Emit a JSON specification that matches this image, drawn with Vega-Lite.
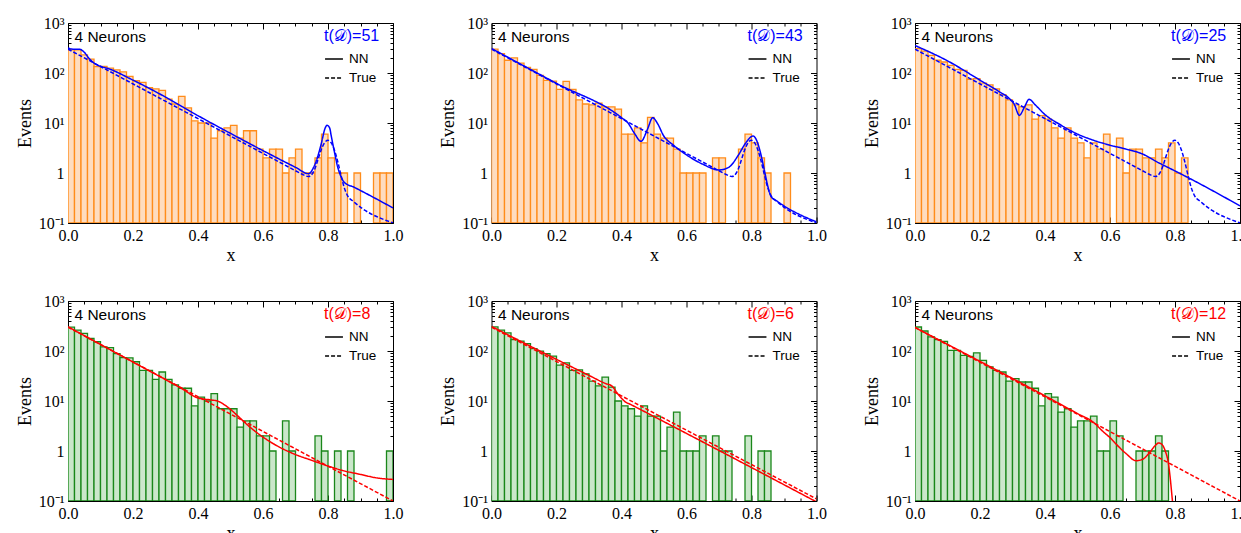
{
"$schema": "https://vega.github.io/schema/vega-lite/v6.json",
"background": "white",
"padding": {"left": 16, "top": 15, "right": 0, "bottom": 0},
"datasets": {
"bars": [
{"p":1,"a":0,"b":0.02,"n":290},{"p":1,"a":0.02,"b":0.04,"n":290},{"p":1,"a":0.04,"b":0.06,"n":230},{"p":1,"a":0.06,"b":0.08,"n":190},{"p":1,"a":0.08,"b":0.1,"n":135},{"p":1,"a":0.1,"b":0.12,"n":135},{"p":1,"a":0.12,"b":0.14,"n":125},{"p":1,"a":0.14,"b":0.16,"n":115},{"p":1,"a":0.16,"b":0.18,"n":105},{"p":1,"a":0.18,"b":0.2,"n":86},{"p":1,"a":0.2,"b":0.22,"n":70},{"p":1,"a":0.22,"b":0.24,"n":65},{"p":1,"a":0.24,"b":0.26,"n":51},{"p":1,"a":0.26,"b":0.28,"n":48},{"p":1,"a":0.28,"b":0.3,"n":45},{"p":1,"a":0.3,"b":0.32,"n":30},{"p":1,"a":0.32,"b":0.34,"n":24},{"p":1,"a":0.34,"b":0.36,"n":34},{"p":1,"a":0.36,"b":0.38,"n":20},{"p":1,"a":0.38,"b":0.4,"n":11},{"p":1,"a":0.4,"b":0.42,"n":10},{"p":1,"a":0.42,"b":0.44,"n":10},{"p":1,"a":0.44,"b":0.46,"n":5},{"p":1,"a":0.46,"b":0.48,"n":7},{"p":1,"a":0.48,"b":0.5,"n":8},{"p":1,"a":0.5,"b":0.52,"n":9},{"p":1,"a":0.52,"b":0.54,"n":5},{"p":1,"a":0.54,"b":0.56,"n":7},{"p":1,"a":0.56,"b":0.58,"n":7},{"p":1,"a":0.58,"b":0.6,"n":3},{"p":1,"a":0.6,"b":0.62,"n":2},{"p":1,"a":0.62,"b":0.64,"n":3},{"p":1,"a":0.64,"b":0.66,"n":3},{"p":1,"a":0.66,"b":0.68,"n":1},{"p":1,"a":0.68,"b":0.7,"n":2},{"p":1,"a":0.7,"b":0.72,"n":3},{"p":1,"a":0.72,"b":0.74,"n":1},{"p":1,"a":0.74,"b":0.76,"n":1},{"p":1,"a":0.76,"b":0.78,"n":2},{"p":1,"a":0.78,"b":0.8,"n":6},{"p":1,"a":0.8,"b":0.82,"n":2},{"p":1,"a":0.82,"b":0.84,"n":1},{"p":1,"a":0.84,"b":0.86,"n":1},{"p":1,"a":0.88,"b":0.9,"n":1},{"p":1,"a":0.94,"b":0.96,"n":1},{"p":1,"a":0.96,"b":0.98,"n":1},{"p":1,"a":0.98,"b":1,"n":1},
{"p":2,"a":0,"b":0.02,"n":300},{"p":2,"a":0.02,"b":0.04,"n":244},{"p":2,"a":0.04,"b":0.06,"n":180},{"p":2,"a":0.06,"b":0.08,"n":200},{"p":2,"a":0.08,"b":0.1,"n":158},{"p":2,"a":0.1,"b":0.12,"n":130},{"p":2,"a":0.12,"b":0.14,"n":118},{"p":2,"a":0.14,"b":0.16,"n":90},{"p":2,"a":0.16,"b":0.18,"n":71},{"p":2,"a":0.18,"b":0.2,"n":69},{"p":2,"a":0.2,"b":0.22,"n":47},{"p":2,"a":0.22,"b":0.24,"n":68},{"p":2,"a":0.24,"b":0.26,"n":47},{"p":2,"a":0.26,"b":0.28,"n":29},{"p":2,"a":0.28,"b":0.3,"n":24},{"p":2,"a":0.3,"b":0.32,"n":23},{"p":2,"a":0.32,"b":0.34,"n":25},{"p":2,"a":0.34,"b":0.36,"n":21},{"p":2,"a":0.36,"b":0.38,"n":21},{"p":2,"a":0.38,"b":0.4,"n":19},{"p":2,"a":0.4,"b":0.42,"n":6},{"p":2,"a":0.42,"b":0.44,"n":6},{"p":2,"a":0.44,"b":0.46,"n":8},{"p":2,"a":0.46,"b":0.48,"n":4},{"p":2,"a":0.48,"b":0.5,"n":13},{"p":2,"a":0.5,"b":0.52,"n":6},{"p":2,"a":0.52,"b":0.54,"n":5},{"p":2,"a":0.54,"b":0.56,"n":5},{"p":2,"a":0.56,"b":0.58,"n":3},{"p":2,"a":0.58,"b":0.6,"n":1},{"p":2,"a":0.6,"b":0.62,"n":1},{"p":2,"a":0.62,"b":0.64,"n":1},{"p":2,"a":0.64,"b":0.66,"n":1},{"p":2,"a":0.68,"b":0.7,"n":2},{"p":2,"a":0.7,"b":0.72,"n":2},{"p":2,"a":0.76,"b":0.78,"n":3},{"p":2,"a":0.78,"b":0.8,"n":6},{"p":2,"a":0.8,"b":0.82,"n":4},{"p":2,"a":0.82,"b":0.84,"n":2},{"p":2,"a":0.84,"b":0.86,"n":1},{"p":2,"a":0.9,"b":0.92,"n":1},
{"p":3,"a":0,"b":0.02,"n":306},{"p":3,"a":0.02,"b":0.04,"n":275},{"p":3,"a":0.04,"b":0.06,"n":225},{"p":3,"a":0.06,"b":0.08,"n":180},{"p":3,"a":0.08,"b":0.1,"n":166},{"p":3,"a":0.1,"b":0.12,"n":142},{"p":3,"a":0.12,"b":0.14,"n":118},{"p":3,"a":0.14,"b":0.16,"n":113},{"p":3,"a":0.16,"b":0.18,"n":75},{"p":3,"a":0.18,"b":0.2,"n":77},{"p":3,"a":0.2,"b":0.22,"n":63},{"p":3,"a":0.22,"b":0.24,"n":58},{"p":3,"a":0.24,"b":0.26,"n":48},{"p":3,"a":0.26,"b":0.28,"n":37},{"p":3,"a":0.28,"b":0.3,"n":29},{"p":3,"a":0.3,"b":0.32,"n":23},{"p":3,"a":0.32,"b":0.34,"n":21},{"p":3,"a":0.34,"b":0.36,"n":23},{"p":3,"a":0.36,"b":0.38,"n":12},{"p":3,"a":0.38,"b":0.4,"n":14},{"p":3,"a":0.4,"b":0.42,"n":12},{"p":3,"a":0.42,"b":0.44,"n":8},{"p":3,"a":0.44,"b":0.46,"n":5},{"p":3,"a":0.46,"b":0.48,"n":8},{"p":3,"a":0.48,"b":0.5,"n":5},{"p":3,"a":0.5,"b":0.52,"n":4},{"p":3,"a":0.52,"b":0.54,"n":2},{"p":3,"a":0.54,"b":0.56,"n":4},{"p":3,"a":0.56,"b":0.58,"n":3},{"p":3,"a":0.58,"b":0.6,"n":6},{"p":3,"a":0.62,"b":0.64,"n":5},{"p":3,"a":0.64,"b":0.66,"n":1},{"p":3,"a":0.66,"b":0.68,"n":3},{"p":3,"a":0.68,"b":0.7,"n":3},{"p":3,"a":0.7,"b":0.72,"n":2},{"p":3,"a":0.72,"b":0.74,"n":2},{"p":3,"a":0.74,"b":0.76,"n":3},{"p":3,"a":0.76,"b":0.78,"n":2},{"p":3,"a":0.78,"b":0.8,"n":4},{"p":3,"a":0.8,"b":0.82,"n":1},{"p":3,"a":0.82,"b":0.84,"n":2},
{"p":4,"a":0,"b":0.02,"n":300},{"p":4,"a":0.02,"b":0.04,"n":262},{"p":4,"a":0.04,"b":0.06,"n":225},{"p":4,"a":0.06,"b":0.08,"n":178},{"p":4,"a":0.08,"b":0.1,"n":153},{"p":4,"a":0.1,"b":0.12,"n":121},{"p":4,"a":0.12,"b":0.14,"n":117},{"p":4,"a":0.14,"b":0.16,"n":89},{"p":4,"a":0.16,"b":0.18,"n":74},{"p":4,"a":0.18,"b":0.2,"n":73},{"p":4,"a":0.2,"b":0.22,"n":61},{"p":4,"a":0.22,"b":0.24,"n":41},{"p":4,"a":0.24,"b":0.26,"n":41},{"p":4,"a":0.26,"b":0.28,"n":27},{"p":4,"a":0.28,"b":0.3,"n":38},{"p":4,"a":0.3,"b":0.32,"n":27},{"p":4,"a":0.32,"b":0.34,"n":21},{"p":4,"a":0.34,"b":0.36,"n":18},{"p":4,"a":0.36,"b":0.38,"n":18},{"p":4,"a":0.38,"b":0.4,"n":8},{"p":4,"a":0.4,"b":0.42,"n":12},{"p":4,"a":0.42,"b":0.44,"n":10},{"p":4,"a":0.44,"b":0.46,"n":14},{"p":4,"a":0.46,"b":0.48,"n":7},{"p":4,"a":0.48,"b":0.5,"n":7},{"p":4,"a":0.5,"b":0.52,"n":7},{"p":4,"a":0.52,"b":0.54,"n":3},{"p":4,"a":0.54,"b":0.56,"n":4},{"p":4,"a":0.56,"b":0.58,"n":4},{"p":4,"a":0.58,"b":0.6,"n":2},{"p":4,"a":0.6,"b":0.62,"n":2},{"p":4,"a":0.62,"b":0.64,"n":1},{"p":4,"a":0.66,"b":0.68,"n":4},{"p":4,"a":0.68,"b":0.7,"n":1},{"p":4,"a":0.76,"b":0.78,"n":2},{"p":4,"a":0.78,"b":0.8,"n":1},{"p":4,"a":0.82,"b":0.84,"n":1},{"p":4,"a":0.86,"b":0.88,"n":1},{"p":4,"a":0.98,"b":1,"n":1},
{"p":5,"a":0,"b":0.02,"n":303},{"p":5,"a":0.02,"b":0.04,"n":262},{"p":5,"a":0.04,"b":0.06,"n":231},{"p":5,"a":0.06,"b":0.08,"n":170},{"p":5,"a":0.08,"b":0.1,"n":157},{"p":5,"a":0.1,"b":0.12,"n":141},{"p":5,"a":0.12,"b":0.14,"n":112},{"p":5,"a":0.14,"b":0.16,"n":99},{"p":5,"a":0.16,"b":0.18,"n":89},{"p":5,"a":0.18,"b":0.2,"n":79},{"p":5,"a":0.2,"b":0.22,"n":52},{"p":5,"a":0.22,"b":0.24,"n":58},{"p":5,"a":0.24,"b":0.26,"n":41},{"p":5,"a":0.26,"b":0.28,"n":42},{"p":5,"a":0.28,"b":0.3,"n":35},{"p":5,"a":0.3,"b":0.32,"n":25},{"p":5,"a":0.32,"b":0.34,"n":20},{"p":5,"a":0.34,"b":0.36,"n":30},{"p":5,"a":0.36,"b":0.38,"n":19},{"p":5,"a":0.38,"b":0.4,"n":10},{"p":5,"a":0.4,"b":0.42,"n":8},{"p":5,"a":0.42,"b":0.44,"n":7},{"p":5,"a":0.44,"b":0.46,"n":5},{"p":5,"a":0.46,"b":0.48,"n":8},{"p":5,"a":0.48,"b":0.5,"n":5},{"p":5,"a":0.5,"b":0.52,"n":5},{"p":5,"a":0.52,"b":0.54,"n":1},{"p":5,"a":0.54,"b":0.56,"n":3},{"p":5,"a":0.56,"b":0.58,"n":6},{"p":5,"a":0.58,"b":0.6,"n":1},{"p":5,"a":0.6,"b":0.62,"n":1},{"p":5,"a":0.62,"b":0.64,"n":1},{"p":5,"a":0.64,"b":0.66,"n":2},{"p":5,"a":0.68,"b":0.7,"n":2},{"p":5,"a":0.7,"b":0.72,"n":1},{"p":5,"a":0.72,"b":0.74,"n":1},{"p":5,"a":0.78,"b":0.8,"n":2},{"p":5,"a":0.82,"b":0.84,"n":1},{"p":5,"a":0.84,"b":0.86,"n":1},
{"p":6,"a":0,"b":0.02,"n":302},{"p":6,"a":0.02,"b":0.04,"n":251},{"p":6,"a":0.04,"b":0.06,"n":191},{"p":6,"a":0.06,"b":0.08,"n":169},{"p":6,"a":0.08,"b":0.1,"n":156},{"p":6,"a":0.1,"b":0.12,"n":103},{"p":6,"a":0.12,"b":0.14,"n":103},{"p":6,"a":0.14,"b":0.16,"n":82},{"p":6,"a":0.16,"b":0.18,"n":78},{"p":6,"a":0.18,"b":0.2,"n":92},{"p":6,"a":0.2,"b":0.22,"n":65},{"p":6,"a":0.22,"b":0.24,"n":48},{"p":6,"a":0.24,"b":0.26,"n":41},{"p":6,"a":0.26,"b":0.28,"n":38},{"p":6,"a":0.28,"b":0.3,"n":25},{"p":6,"a":0.3,"b":0.32,"n":28},{"p":6,"a":0.32,"b":0.34,"n":24},{"p":6,"a":0.34,"b":0.36,"n":24},{"p":6,"a":0.36,"b":0.38,"n":18},{"p":6,"a":0.38,"b":0.4,"n":8},{"p":6,"a":0.4,"b":0.42,"n":14},{"p":6,"a":0.42,"b":0.44,"n":12},{"p":6,"a":0.44,"b":0.46,"n":6},{"p":6,"a":0.46,"b":0.48,"n":7},{"p":6,"a":0.48,"b":0.5,"n":3},{"p":6,"a":0.5,"b":0.52,"n":4},{"p":6,"a":0.52,"b":0.54,"n":4},{"p":6,"a":0.54,"b":0.56,"n":5},{"p":6,"a":0.56,"b":0.58,"n":1},{"p":6,"a":0.58,"b":0.6,"n":1},{"p":6,"a":0.6,"b":0.62,"n":4},{"p":6,"a":0.62,"b":0.64,"n":2},{"p":6,"a":0.68,"b":0.7,"n":1},{"p":6,"a":0.7,"b":0.72,"n":1},{"p":6,"a":0.72,"b":0.74,"n":1},{"p":6,"a":0.74,"b":0.76,"n":2},{"p":6,"a":0.76,"b":0.78,"n":1}
],
"curves": [
{"p":1,"s":"NN","x":0,"v":318},{"p":1,"s":"NN","x":0.015,"v":300},{"p":1,"s":"NN","x":0.035,"v":300},{"p":1,"s":"NN","x":0.05,"v":260},{"p":1,"s":"NN","x":0.065,"v":195},{"p":1,"s":"NN","x":0.08,"v":158},{"p":1,"s":"NN","x":0.1,"v":136},{"p":1,"s":"NN","x":0.12,"v":125},{"p":1,"s":"NN","x":0.2,"v":72},{"p":1,"s":"NN","x":0.3,"v":33},{"p":1,"s":"NN","x":0.4,"v":14},{"p":1,"s":"NN","x":0.5,"v":6.2},{"p":1,"s":"NN","x":0.6,"v":2.8},{"p":1,"s":"NN","x":0.7,"v":1.3},{"p":1,"s":"NN","x":0.74,"v":0.97},{"p":1,"s":"NN","x":0.76,"v":1.5},{"p":1,"s":"NN","x":0.78,"v":4},{"p":1,"s":"NN","x":0.79,"v":7.5},{"p":1,"s":"NN","x":0.797,"v":9},{"p":1,"s":"NN","x":0.805,"v":8},{"p":1,"s":"NN","x":0.81,"v":5.5},{"p":1,"s":"NN","x":0.82,"v":2.6},{"p":1,"s":"NN","x":0.83,"v":1.3},{"p":1,"s":"NN","x":0.84,"v":0.85},{"p":1,"s":"NN","x":0.85,"v":0.65},{"p":1,"s":"NN","x":0.88,"v":0.52},{"p":1,"s":"NN","x":1,"v":0.2},
{"p":2,"s":"NN","x":0,"v":310},{"p":2,"s":"NN","x":0.2,"v":62},{"p":2,"s":"NN","x":0.4,"v":12.8},{"p":2,"s":"NN","x":0.42,"v":10},{"p":2,"s":"NN","x":0.44,"v":6.2},{"p":2,"s":"NN","x":0.46,"v":4.3},{"p":2,"s":"NN","x":0.48,"v":7.5},{"p":2,"s":"NN","x":0.496,"v":12.8},{"p":2,"s":"NN","x":0.51,"v":10},{"p":2,"s":"NN","x":0.53,"v":5.5},{"p":2,"s":"NN","x":0.56,"v":3.6},{"p":2,"s":"NN","x":0.6,"v":2.3},{"p":2,"s":"NN","x":0.65,"v":1.5},{"p":2,"s":"NN","x":0.7,"v":1.15},{"p":2,"s":"NN","x":0.73,"v":1.3},{"p":2,"s":"NN","x":0.76,"v":2.3},{"p":2,"s":"NN","x":0.78,"v":3.8},{"p":2,"s":"NN","x":0.805,"v":5.5},{"p":2,"s":"NN","x":0.82,"v":3.8},{"p":2,"s":"NN","x":0.83,"v":2.2},{"p":2,"s":"NN","x":0.84,"v":1.1},{"p":2,"s":"NN","x":0.85,"v":0.55},{"p":2,"s":"NN","x":0.86,"v":0.34},{"p":2,"s":"NN","x":0.88,"v":0.27},{"p":2,"s":"NN","x":1,"v":0.105},
{"p":3,"s":"NN","x":0,"v":355},{"p":3,"s":"NN","x":0.1,"v":175},{"p":3,"s":"NN","x":0.2,"v":72},{"p":3,"s":"NN","x":0.26,"v":42},{"p":3,"s":"NN","x":0.29,"v":31},{"p":3,"s":"NN","x":0.305,"v":24},{"p":3,"s":"NN","x":0.321,"v":14.2},{"p":3,"s":"NN","x":0.337,"v":21},{"p":3,"s":"NN","x":0.351,"v":29.7},{"p":3,"s":"NN","x":0.37,"v":23},{"p":3,"s":"NN","x":0.4,"v":14.7},{"p":3,"s":"NN","x":0.45,"v":9},{"p":3,"s":"NN","x":0.5,"v":6},{"p":3,"s":"NN","x":0.55,"v":4.5},{"p":3,"s":"NN","x":0.6,"v":3.6},{"p":3,"s":"NN","x":0.65,"v":3},{"p":3,"s":"NN","x":0.7,"v":2.4},{"p":3,"s":"NN","x":0.75,"v":1.6},{"p":3,"s":"NN","x":0.8,"v":1.1},{"p":3,"s":"NN","x":0.85,"v":0.75},{"p":3,"s":"NN","x":1,"v":0.22},
{"p":1,"s":"True","x":0,"v":300},{"p":1,"s":"True","x":0.7,"v":1.11},{"p":1,"s":"True","x":0.72,"v":0.946},{"p":1,"s":"True","x":0.74,"v":0.85},{"p":1,"s":"True","x":0.76,"v":1.23},{"p":1,"s":"True","x":0.77,"v":1.93},{"p":1,"s":"True","x":0.78,"v":3.01},{"p":1,"s":"True","x":0.79,"v":4.07},{"p":1,"s":"True","x":0.8,"v":4.5},{"p":1,"s":"True","x":0.81,"v":3.99},{"p":1,"s":"True","x":0.82,"v":2.85},{"p":1,"s":"True","x":0.83,"v":1.69},{"p":1,"s":"True","x":0.84,"v":0.9},{"p":1,"s":"True","x":0.85,"v":0.51},{"p":1,"s":"True","x":0.86,"v":0.353},{"p":1,"s":"True","x":0.88,"v":0.264},{"p":1,"s":"True","x":1,"v":0.1006},
{"p":2,"s":"True","x":0,"v":300},{"p":2,"s":"True","x":0.7,"v":1.11},{"p":2,"s":"True","x":0.72,"v":0.946},{"p":2,"s":"True","x":0.74,"v":0.85},{"p":2,"s":"True","x":0.76,"v":1.23},{"p":2,"s":"True","x":0.77,"v":1.93},{"p":2,"s":"True","x":0.78,"v":3.01},{"p":2,"s":"True","x":0.79,"v":4.07},{"p":2,"s":"True","x":0.8,"v":4.5},{"p":2,"s":"True","x":0.81,"v":3.99},{"p":2,"s":"True","x":0.82,"v":2.85},{"p":2,"s":"True","x":0.83,"v":1.69},{"p":2,"s":"True","x":0.84,"v":0.9},{"p":2,"s":"True","x":0.85,"v":0.51},{"p":2,"s":"True","x":0.86,"v":0.353},{"p":2,"s":"True","x":0.88,"v":0.264},{"p":2,"s":"True","x":1,"v":0.1006},
{"p":3,"s":"True","x":0,"v":300},{"p":3,"s":"True","x":0.7,"v":1.11},{"p":3,"s":"True","x":0.72,"v":0.946},{"p":3,"s":"True","x":0.74,"v":0.85},{"p":3,"s":"True","x":0.76,"v":1.23},{"p":3,"s":"True","x":0.77,"v":1.93},{"p":3,"s":"True","x":0.78,"v":3.01},{"p":3,"s":"True","x":0.79,"v":4.07},{"p":3,"s":"True","x":0.8,"v":4.5},{"p":3,"s":"True","x":0.81,"v":3.99},{"p":3,"s":"True","x":0.82,"v":2.85},{"p":3,"s":"True","x":0.83,"v":1.69},{"p":3,"s":"True","x":0.84,"v":0.9},{"p":3,"s":"True","x":0.85,"v":0.51},{"p":3,"s":"True","x":0.86,"v":0.353},{"p":3,"s":"True","x":0.88,"v":0.264},{"p":3,"s":"True","x":1,"v":0.1006},
{"p":4,"s":"NN","x":0,"v":305},{"p":4,"s":"NN","x":0.2,"v":60},{"p":4,"s":"NN","x":0.35,"v":17.7},{"p":4,"s":"NN","x":0.4,"v":11.5},{"p":4,"s":"NN","x":0.44,"v":10.5},{"p":4,"s":"NN","x":0.46,"v":10},{"p":4,"s":"NN","x":0.48,"v":8.5},{"p":4,"s":"NN","x":0.5,"v":6.8},{"p":4,"s":"NN","x":0.52,"v":5.2},{"p":4,"s":"NN","x":0.56,"v":3},{"p":4,"s":"NN","x":0.6,"v":1.9},{"p":4,"s":"NN","x":0.65,"v":1.2},{"p":4,"s":"NN","x":0.7,"v":0.85},{"p":4,"s":"NN","x":0.75,"v":0.65},{"p":4,"s":"NN","x":0.8,"v":0.5},{"p":4,"s":"NN","x":0.85,"v":0.4},{"p":4,"s":"NN","x":0.9,"v":0.34},{"p":4,"s":"NN","x":0.95,"v":0.29},{"p":4,"s":"NN","x":1,"v":0.27},
{"p":4,"s":"True","x":0,"v":300},{"p":4,"s":"True","x":1,"v":0.1},
{"p":5,"s":"NN","x":0,"v":310},{"p":5,"s":"NN","x":0.2,"v":68},{"p":5,"s":"NN","x":0.3,"v":32.5},{"p":5,"s":"NN","x":0.35,"v":22.5},{"p":5,"s":"NN","x":0.37,"v":20},{"p":5,"s":"NN","x":0.39,"v":13.5},{"p":5,"s":"NN","x":0.41,"v":9.8},{"p":5,"s":"NN","x":0.43,"v":8.4},{"p":5,"s":"NN","x":1,"v":0.096},
{"p":5,"s":"True","x":0,"v":300},{"p":5,"s":"True","x":1,"v":0.11},
{"p":6,"s":"NN","x":0,"v":295},{"p":6,"s":"NN","x":0.5,"v":5.6},{"p":6,"s":"NN","x":0.55,"v":3.7},{"p":6,"s":"NN","x":0.58,"v":2.4},{"p":6,"s":"NN","x":0.6,"v":1.85},{"p":6,"s":"NN","x":0.62,"v":1.35},{"p":6,"s":"NN","x":0.65,"v":0.88},{"p":6,"s":"NN","x":0.68,"v":0.64},{"p":6,"s":"NN","x":0.7,"v":0.68},{"p":6,"s":"NN","x":0.72,"v":0.9},{"p":6,"s":"NN","x":0.74,"v":1.3},{"p":6,"s":"NN","x":0.75,"v":1.45},{"p":6,"s":"NN","x":0.76,"v":1.35},{"p":6,"s":"NN","x":0.77,"v":1},{"p":6,"s":"NN","x":0.78,"v":0.55},{"p":6,"s":"NN","x":0.785,"v":0.3},{"p":6,"s":"NN","x":0.79,"v":0.14},{"p":6,"s":"NN","x":0.795,"v":0.06},{"p":6,"s":"NN","x":0.8,"v":0.02},
{"p":6,"s":"True","x":0,"v":295},{"p":6,"s":"True","x":1,"v":0.1}
]
},
"columns": 3,
"spacing": {"row": 78, "column": 98.5},
"bounds": "flush",
"resolve": {"scale": {"strokeDash": "independent"}, "legend": {"strokeDash": "independent"}},
"concat": [
{"width": 325, "height": 200, "layer": [
 {"data": {"name": "bars"}, "transform": [{"filter": "datum.p == 1"}],
  "mark": {"type": "bar", "fill": "#fedcbf", "stroke": "#ff8c1a", "strokeWidth": 1.3, "clip": true},
  "encoding": {
   "x": {"field": "a", "type": "quantitative", "scale": {"domain": [0, 1], "nice": false, "zero": false},
    "axis": {"orient": "bottom", "title": "x", "titlePadding": 0, "labelPadding": 10, "values": [0,0.05,0.1,0.15,0.2,0.25,0.3,0.35,0.4,0.45,0.5,0.55,0.6,0.65,0.7,0.75,0.8,0.85,0.9,0.95,1], "labelExpr": "abs(datum.value*5-round(datum.value*5))<0.001 ? format(datum.value,'.1f') : ''", "tickSize": {"condition": {"test": "abs(datum.value*5-round(datum.value*5))<0.001", "value": -6}, "value": -3}}},
   "x2": {"field": "b"},
   "y": {"field": "n", "type": "quantitative", "scale": {"type": "log", "domain": [0.1, 1000], "nice": false},
    "axis": {"orient": "left", "title": "Events", "titlePadding": 4, "labelPadding": 10, "values": [0.1,0.2,0.3,0.4,0.5,0.6,0.7,0.8,0.9,1,2,3,4,5,6,7,8,9,10,20,30,40,50,60,70,80,90,100,200,300,400,500,600,700,800,900,1000], "labelExpr": "datum.value == 1000 ? '10³' : datum.value == 100 ? '10²' : datum.value == 10 ? '10¹' : datum.value == 1 ? '1' : datum.value == 0.1 ? '10⁻¹' : ''", "tickSize": {"condition": {"test": "indexof([0.1,1,10,100,1000], datum.value) >= 0", "value": -6}, "value": -3}}},
   "y2": {"datum": 0.1}}},
 {"data": {"name": "curves"}, "transform": [{"filter": "datum.p == 1"}],
  "mark": {"type": "line", "color": "#0000ff", "strokeWidth": 1.5, "interpolate": "monotone", "clip": true},
  "encoding": {
   "x": {"field": "x", "type": "quantitative", "axis": {"orient": "top", "title": null, "labels": false, "values": [0,0.05,0.1,0.15,0.2,0.25,0.3,0.35,0.4,0.45,0.5,0.55,0.6,0.65,0.7,0.75,0.8,0.85,0.9,0.95,1], "tickSize": {"condition": {"test": "abs(datum.value*5-round(datum.value*5))<0.001", "value": -6}, "value": -3}}},
   "y": {"field": "v", "type": "quantitative", "axis": {"orient": "right", "title": null, "labels": false, "values": [0.1,0.2,0.3,0.4,0.5,0.6,0.7,0.8,0.9,1,2,3,4,5,6,7,8,9,10,20,30,40,50,60,70,80,90,100,200,300,400,500,600,700,800,900,1000], "tickSize": {"condition": {"test": "indexof([0.1,1,10,100,1000], datum.value) >= 0", "value": -6}, "value": -3}}},
   "strokeDash": {"field": "s", "type": "nominal", "scale": {"domain": ["NN", "True"], "range": [[1, 0], [4, 2]]},
    "legend": {"title": "t(𝒟)=51", "titleColor": "#0000ff", "orient": "none", "legendX": 256, "legendY": 5}}}},
 {"data": {"values": [{}]}, "mark": {"type": "text", "align": "left", "baseline": "middle", "font": "Liberation Sans", "fontSize": 15.5, "color": "black"},
  "encoding": {"x": {"datum": 0.02, "type": "quantitative", "axis": null}, "y": {"datum": 530, "type": "quantitative", "axis": null}, "text": {"value": "4 Neurons"}}}
]},
{"width": 325, "height": 200, "layer": [
 {"data": {"name": "bars"}, "transform": [{"filter": "datum.p == 2"}],
  "mark": {"type": "bar", "fill": "#fedcbf", "stroke": "#ff8c1a", "strokeWidth": 1.3, "clip": true},
  "encoding": {
   "x": {"field": "a", "type": "quantitative", "scale": {"domain": [0, 1], "nice": false, "zero": false},
    "axis": {"orient": "bottom", "title": "x", "titlePadding": 0, "labelPadding": 10, "values": [0,0.05,0.1,0.15,0.2,0.25,0.3,0.35,0.4,0.45,0.5,0.55,0.6,0.65,0.7,0.75,0.8,0.85,0.9,0.95,1], "labelExpr": "abs(datum.value*5-round(datum.value*5))<0.001 ? format(datum.value,'.1f') : ''", "tickSize": {"condition": {"test": "abs(datum.value*5-round(datum.value*5))<0.001", "value": -6}, "value": -3}}},
   "x2": {"field": "b"},
   "y": {"field": "n", "type": "quantitative", "scale": {"type": "log", "domain": [0.1, 1000], "nice": false},
    "axis": {"orient": "left", "title": "Events", "titlePadding": 4, "labelPadding": 10, "values": [0.1,0.2,0.3,0.4,0.5,0.6,0.7,0.8,0.9,1,2,3,4,5,6,7,8,9,10,20,30,40,50,60,70,80,90,100,200,300,400,500,600,700,800,900,1000], "labelExpr": "datum.value == 1000 ? '10³' : datum.value == 100 ? '10²' : datum.value == 10 ? '10¹' : datum.value == 1 ? '1' : datum.value == 0.1 ? '10⁻¹' : ''", "tickSize": {"condition": {"test": "indexof([0.1,1,10,100,1000], datum.value) >= 0", "value": -6}, "value": -3}}},
   "y2": {"datum": 0.1}}},
 {"data": {"name": "curves"}, "transform": [{"filter": "datum.p == 2"}],
  "mark": {"type": "line", "color": "#0000ff", "strokeWidth": 1.5, "interpolate": "monotone", "clip": true},
  "encoding": {
   "x": {"field": "x", "type": "quantitative", "axis": {"orient": "top", "title": null, "labels": false, "values": [0,0.05,0.1,0.15,0.2,0.25,0.3,0.35,0.4,0.45,0.5,0.55,0.6,0.65,0.7,0.75,0.8,0.85,0.9,0.95,1], "tickSize": {"condition": {"test": "abs(datum.value*5-round(datum.value*5))<0.001", "value": -6}, "value": -3}}},
   "y": {"field": "v", "type": "quantitative", "axis": {"orient": "right", "title": null, "labels": false, "values": [0.1,0.2,0.3,0.4,0.5,0.6,0.7,0.8,0.9,1,2,3,4,5,6,7,8,9,10,20,30,40,50,60,70,80,90,100,200,300,400,500,600,700,800,900,1000], "tickSize": {"condition": {"test": "indexof([0.1,1,10,100,1000], datum.value) >= 0", "value": -6}, "value": -3}}},
   "strokeDash": {"field": "s", "type": "nominal", "scale": {"domain": ["NN", "True"], "range": [[1, 0], [4, 2]]},
    "legend": {"title": "t(𝒟)=43", "titleColor": "#0000ff", "orient": "none", "legendX": 256, "legendY": 5}}}},
 {"data": {"values": [{}]}, "mark": {"type": "text", "align": "left", "baseline": "middle", "font": "Liberation Sans", "fontSize": 15.5, "color": "black"},
  "encoding": {"x": {"datum": 0.02, "type": "quantitative", "axis": null}, "y": {"datum": 530, "type": "quantitative", "axis": null}, "text": {"value": "4 Neurons"}}}
]},
{"width": 325, "height": 200, "layer": [
 {"data": {"name": "bars"}, "transform": [{"filter": "datum.p == 3"}],
  "mark": {"type": "bar", "fill": "#fedcbf", "stroke": "#ff8c1a", "strokeWidth": 1.3, "clip": true},
  "encoding": {
   "x": {"field": "a", "type": "quantitative", "scale": {"domain": [0, 1], "nice": false, "zero": false},
    "axis": {"orient": "bottom", "title": "x", "titlePadding": 0, "labelPadding": 10, "values": [0,0.05,0.1,0.15,0.2,0.25,0.3,0.35,0.4,0.45,0.5,0.55,0.6,0.65,0.7,0.75,0.8,0.85,0.9,0.95,1], "labelExpr": "abs(datum.value*5-round(datum.value*5))<0.001 ? format(datum.value,'.1f') : ''", "tickSize": {"condition": {"test": "abs(datum.value*5-round(datum.value*5))<0.001", "value": -6}, "value": -3}}},
   "x2": {"field": "b"},
   "y": {"field": "n", "type": "quantitative", "scale": {"type": "log", "domain": [0.1, 1000], "nice": false},
    "axis": {"orient": "left", "title": "Events", "titlePadding": 4, "labelPadding": 10, "values": [0.1,0.2,0.3,0.4,0.5,0.6,0.7,0.8,0.9,1,2,3,4,5,6,7,8,9,10,20,30,40,50,60,70,80,90,100,200,300,400,500,600,700,800,900,1000], "labelExpr": "datum.value == 1000 ? '10³' : datum.value == 100 ? '10²' : datum.value == 10 ? '10¹' : datum.value == 1 ? '1' : datum.value == 0.1 ? '10⁻¹' : ''", "tickSize": {"condition": {"test": "indexof([0.1,1,10,100,1000], datum.value) >= 0", "value": -6}, "value": -3}}},
   "y2": {"datum": 0.1}}},
 {"data": {"name": "curves"}, "transform": [{"filter": "datum.p == 3"}],
  "mark": {"type": "line", "color": "#0000ff", "strokeWidth": 1.5, "interpolate": "monotone", "clip": true},
  "encoding": {
   "x": {"field": "x", "type": "quantitative", "axis": {"orient": "top", "title": null, "labels": false, "values": [0,0.05,0.1,0.15,0.2,0.25,0.3,0.35,0.4,0.45,0.5,0.55,0.6,0.65,0.7,0.75,0.8,0.85,0.9,0.95,1], "tickSize": {"condition": {"test": "abs(datum.value*5-round(datum.value*5))<0.001", "value": -6}, "value": -3}}},
   "y": {"field": "v", "type": "quantitative", "axis": {"orient": "right", "title": null, "labels": false, "values": [0.1,0.2,0.3,0.4,0.5,0.6,0.7,0.8,0.9,1,2,3,4,5,6,7,8,9,10,20,30,40,50,60,70,80,90,100,200,300,400,500,600,700,800,900,1000], "tickSize": {"condition": {"test": "indexof([0.1,1,10,100,1000], datum.value) >= 0", "value": -6}, "value": -3}}},
   "strokeDash": {"field": "s", "type": "nominal", "scale": {"domain": ["NN", "True"], "range": [[1, 0], [4, 2]]},
    "legend": {"title": "t(𝒟)=25", "titleColor": "#0000ff", "orient": "none", "legendX": 256, "legendY": 5}}}},
 {"data": {"values": [{}]}, "mark": {"type": "text", "align": "left", "baseline": "middle", "font": "Liberation Sans", "fontSize": 15.5, "color": "black"},
  "encoding": {"x": {"datum": 0.02, "type": "quantitative", "axis": null}, "y": {"datum": 530, "type": "quantitative", "axis": null}, "text": {"value": "4 Neurons"}}}
]},
{"width": 325, "height": 200, "layer": [
 {"data": {"name": "bars"}, "transform": [{"filter": "datum.p == 4"}],
  "mark": {"type": "bar", "fill": "#cbe7cb", "stroke": "#1a871a", "strokeWidth": 1.3, "clip": true},
  "encoding": {
   "x": {"field": "a", "type": "quantitative", "scale": {"domain": [0, 1], "nice": false, "zero": false},
    "axis": {"orient": "bottom", "title": "x", "titlePadding": 0, "labelPadding": 10, "values": [0,0.05,0.1,0.15,0.2,0.25,0.3,0.35,0.4,0.45,0.5,0.55,0.6,0.65,0.7,0.75,0.8,0.85,0.9,0.95,1], "labelExpr": "abs(datum.value*5-round(datum.value*5))<0.001 ? format(datum.value,'.1f') : ''", "tickSize": {"condition": {"test": "abs(datum.value*5-round(datum.value*5))<0.001", "value": -6}, "value": -3}}},
   "x2": {"field": "b"},
   "y": {"field": "n", "type": "quantitative", "scale": {"type": "log", "domain": [0.1, 1000], "nice": false},
    "axis": {"orient": "left", "title": "Events", "titlePadding": 4, "labelPadding": 10, "values": [0.1,0.2,0.3,0.4,0.5,0.6,0.7,0.8,0.9,1,2,3,4,5,6,7,8,9,10,20,30,40,50,60,70,80,90,100,200,300,400,500,600,700,800,900,1000], "labelExpr": "datum.value == 1000 ? '10³' : datum.value == 100 ? '10²' : datum.value == 10 ? '10¹' : datum.value == 1 ? '1' : datum.value == 0.1 ? '10⁻¹' : ''", "tickSize": {"condition": {"test": "indexof([0.1,1,10,100,1000], datum.value) >= 0", "value": -6}, "value": -3}}},
   "y2": {"datum": 0.1}}},
 {"data": {"name": "curves"}, "transform": [{"filter": "datum.p == 4"}],
  "mark": {"type": "line", "color": "#ff0000", "strokeWidth": 1.5, "interpolate": "monotone", "clip": true},
  "encoding": {
   "x": {"field": "x", "type": "quantitative", "axis": {"orient": "top", "title": null, "labels": false, "values": [0,0.05,0.1,0.15,0.2,0.25,0.3,0.35,0.4,0.45,0.5,0.55,0.6,0.65,0.7,0.75,0.8,0.85,0.9,0.95,1], "tickSize": {"condition": {"test": "abs(datum.value*5-round(datum.value*5))<0.001", "value": -6}, "value": -3}}},
   "y": {"field": "v", "type": "quantitative", "axis": {"orient": "right", "title": null, "labels": false, "values": [0.1,0.2,0.3,0.4,0.5,0.6,0.7,0.8,0.9,1,2,3,4,5,6,7,8,9,10,20,30,40,50,60,70,80,90,100,200,300,400,500,600,700,800,900,1000], "tickSize": {"condition": {"test": "indexof([0.1,1,10,100,1000], datum.value) >= 0", "value": -6}, "value": -3}}},
   "strokeDash": {"field": "s", "type": "nominal", "scale": {"domain": ["NN", "True"], "range": [[1, 0], [4, 2]]},
    "legend": {"title": "t(𝒟)=8", "titleColor": "#ff0000", "orient": "none", "legendX": 256, "legendY": 5}}}},
 {"data": {"values": [{}]}, "mark": {"type": "text", "align": "left", "baseline": "middle", "font": "Liberation Sans", "fontSize": 15.5, "color": "black"},
  "encoding": {"x": {"datum": 0.02, "type": "quantitative", "axis": null}, "y": {"datum": 530, "type": "quantitative", "axis": null}, "text": {"value": "4 Neurons"}}}
]},
{"width": 325, "height": 200, "layer": [
 {"data": {"name": "bars"}, "transform": [{"filter": "datum.p == 5"}],
  "mark": {"type": "bar", "fill": "#cbe7cb", "stroke": "#1a871a", "strokeWidth": 1.3, "clip": true},
  "encoding": {
   "x": {"field": "a", "type": "quantitative", "scale": {"domain": [0, 1], "nice": false, "zero": false},
    "axis": {"orient": "bottom", "title": "x", "titlePadding": 0, "labelPadding": 10, "values": [0,0.05,0.1,0.15,0.2,0.25,0.3,0.35,0.4,0.45,0.5,0.55,0.6,0.65,0.7,0.75,0.8,0.85,0.9,0.95,1], "labelExpr": "abs(datum.value*5-round(datum.value*5))<0.001 ? format(datum.value,'.1f') : ''", "tickSize": {"condition": {"test": "abs(datum.value*5-round(datum.value*5))<0.001", "value": -6}, "value": -3}}},
   "x2": {"field": "b"},
   "y": {"field": "n", "type": "quantitative", "scale": {"type": "log", "domain": [0.1, 1000], "nice": false},
    "axis": {"orient": "left", "title": "Events", "titlePadding": 4, "labelPadding": 10, "values": [0.1,0.2,0.3,0.4,0.5,0.6,0.7,0.8,0.9,1,2,3,4,5,6,7,8,9,10,20,30,40,50,60,70,80,90,100,200,300,400,500,600,700,800,900,1000], "labelExpr": "datum.value == 1000 ? '10³' : datum.value == 100 ? '10²' : datum.value == 10 ? '10¹' : datum.value == 1 ? '1' : datum.value == 0.1 ? '10⁻¹' : ''", "tickSize": {"condition": {"test": "indexof([0.1,1,10,100,1000], datum.value) >= 0", "value": -6}, "value": -3}}},
   "y2": {"datum": 0.1}}},
 {"data": {"name": "curves"}, "transform": [{"filter": "datum.p == 5"}],
  "mark": {"type": "line", "color": "#ff0000", "strokeWidth": 1.5, "interpolate": "monotone", "clip": true},
  "encoding": {
   "x": {"field": "x", "type": "quantitative", "axis": {"orient": "top", "title": null, "labels": false, "values": [0,0.05,0.1,0.15,0.2,0.25,0.3,0.35,0.4,0.45,0.5,0.55,0.6,0.65,0.7,0.75,0.8,0.85,0.9,0.95,1], "tickSize": {"condition": {"test": "abs(datum.value*5-round(datum.value*5))<0.001", "value": -6}, "value": -3}}},
   "y": {"field": "v", "type": "quantitative", "axis": {"orient": "right", "title": null, "labels": false, "values": [0.1,0.2,0.3,0.4,0.5,0.6,0.7,0.8,0.9,1,2,3,4,5,6,7,8,9,10,20,30,40,50,60,70,80,90,100,200,300,400,500,600,700,800,900,1000], "tickSize": {"condition": {"test": "indexof([0.1,1,10,100,1000], datum.value) >= 0", "value": -6}, "value": -3}}},
   "strokeDash": {"field": "s", "type": "nominal", "scale": {"domain": ["NN", "True"], "range": [[1, 0], [4, 2]]},
    "legend": {"title": "t(𝒟)=6", "titleColor": "#ff0000", "orient": "none", "legendX": 256, "legendY": 5}}}},
 {"data": {"values": [{}]}, "mark": {"type": "text", "align": "left", "baseline": "middle", "font": "Liberation Sans", "fontSize": 15.5, "color": "black"},
  "encoding": {"x": {"datum": 0.02, "type": "quantitative", "axis": null}, "y": {"datum": 530, "type": "quantitative", "axis": null}, "text": {"value": "4 Neurons"}}}
]},
{"width": 325, "height": 200, "layer": [
 {"data": {"name": "bars"}, "transform": [{"filter": "datum.p == 6"}],
  "mark": {"type": "bar", "fill": "#cbe7cb", "stroke": "#1a871a", "strokeWidth": 1.3, "clip": true},
  "encoding": {
   "x": {"field": "a", "type": "quantitative", "scale": {"domain": [0, 1], "nice": false, "zero": false},
    "axis": {"orient": "bottom", "title": "x", "titlePadding": 0, "labelPadding": 10, "values": [0,0.05,0.1,0.15,0.2,0.25,0.3,0.35,0.4,0.45,0.5,0.55,0.6,0.65,0.7,0.75,0.8,0.85,0.9,0.95,1], "labelExpr": "abs(datum.value*5-round(datum.value*5))<0.001 ? format(datum.value,'.1f') : ''", "tickSize": {"condition": {"test": "abs(datum.value*5-round(datum.value*5))<0.001", "value": -6}, "value": -3}}},
   "x2": {"field": "b"},
   "y": {"field": "n", "type": "quantitative", "scale": {"type": "log", "domain": [0.1, 1000], "nice": false},
    "axis": {"orient": "left", "title": "Events", "titlePadding": 4, "labelPadding": 10, "values": [0.1,0.2,0.3,0.4,0.5,0.6,0.7,0.8,0.9,1,2,3,4,5,6,7,8,9,10,20,30,40,50,60,70,80,90,100,200,300,400,500,600,700,800,900,1000], "labelExpr": "datum.value == 1000 ? '10³' : datum.value == 100 ? '10²' : datum.value == 10 ? '10¹' : datum.value == 1 ? '1' : datum.value == 0.1 ? '10⁻¹' : ''", "tickSize": {"condition": {"test": "indexof([0.1,1,10,100,1000], datum.value) >= 0", "value": -6}, "value": -3}}},
   "y2": {"datum": 0.1}}},
 {"data": {"name": "curves"}, "transform": [{"filter": "datum.p == 6"}],
  "mark": {"type": "line", "color": "#ff0000", "strokeWidth": 1.5, "interpolate": "monotone", "clip": true},
  "encoding": {
   "x": {"field": "x", "type": "quantitative", "axis": {"orient": "top", "title": null, "labels": false, "values": [0,0.05,0.1,0.15,0.2,0.25,0.3,0.35,0.4,0.45,0.5,0.55,0.6,0.65,0.7,0.75,0.8,0.85,0.9,0.95,1], "tickSize": {"condition": {"test": "abs(datum.value*5-round(datum.value*5))<0.001", "value": -6}, "value": -3}}},
   "y": {"field": "v", "type": "quantitative", "axis": {"orient": "right", "title": null, "labels": false, "values": [0.1,0.2,0.3,0.4,0.5,0.6,0.7,0.8,0.9,1,2,3,4,5,6,7,8,9,10,20,30,40,50,60,70,80,90,100,200,300,400,500,600,700,800,900,1000], "tickSize": {"condition": {"test": "indexof([0.1,1,10,100,1000], datum.value) >= 0", "value": -6}, "value": -3}}},
   "strokeDash": {"field": "s", "type": "nominal", "scale": {"domain": ["NN", "True"], "range": [[1, 0], [4, 2]]},
    "legend": {"title": "t(𝒟)=12", "titleColor": "#ff0000", "orient": "none", "legendX": 256, "legendY": 5}}}},
 {"data": {"values": [{}]}, "mark": {"type": "text", "align": "left", "baseline": "middle", "font": "Liberation Sans", "fontSize": 15.5, "color": "black"},
  "encoding": {"x": {"datum": 0.02, "type": "quantitative", "axis": null}, "y": {"datum": 530, "type": "quantitative", "axis": null}, "text": {"value": "4 Neurons"}}}
]}
],
"config": {
 "view": {"stroke": null},
 "axis": {"grid": false, "domainColor": "black", "domainWidth": 1, "tickColor": "black", "tickWidth": 1, "labelColor": "black", "labelFont": "Liberation Serif", "labelFontSize": 16, "titleFont": "Liberation Serif", "titleFontSize": 18, "titleFontWeight": "normal", "titleColor": "black", "labelOverlap": false, "labelFlush": false, "labelBound": false},
 "legend": {"titleFont": "Liberation Sans", "titleFontSize": 16, "titleFontWeight": "normal", "titlePadding": 5, "labelFont": "Liberation Sans", "labelFontSize": 13.5, "labelColor": "black", "symbolType": "stroke", "symbolStrokeColor": "black", "symbolStrokeWidth": 1.3, "symbolSize": 320, "labelOffset": 5, "rowPadding": 2, "padding": 0}
}
}
